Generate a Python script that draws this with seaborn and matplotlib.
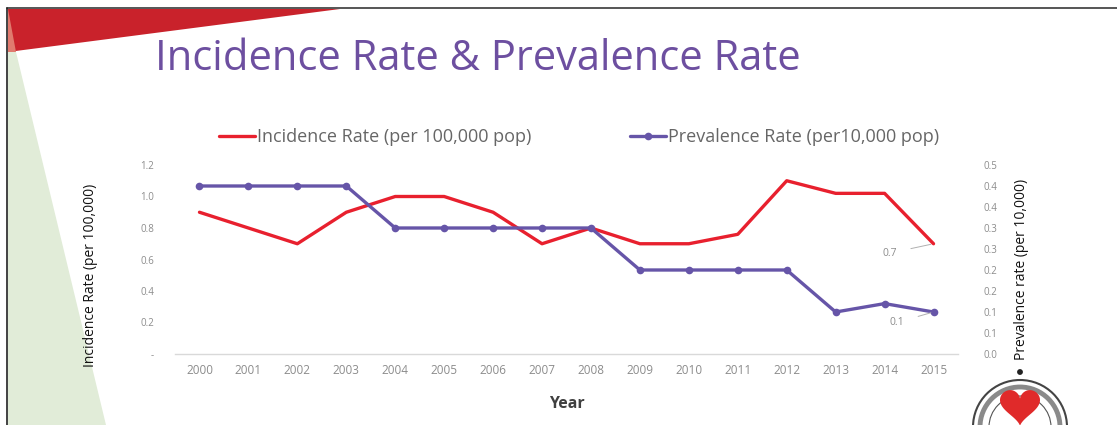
import numpy as np
import pandas as pd
import matplotlib
matplotlib.use("Agg")
import matplotlib.pyplot as plt
from matplotlib.patches import Polygon, Circle
import seaborn as sns

years = ["2000", "2001", "2002", "2003", "2004", "2005", "2006", "2007",
         "2008", "2009", "2010", "2011", "2012", "2013", "2014", "2015"]
incidence = [0.9, 0.8, 0.7, 0.9, 1.0, 1.0, 0.9, 0.7,
             0.8, 0.7, 0.7, 0.76, 1.1, 1.02, 1.02, 0.7]
prevalence = [0.4, 0.4, 0.4, 0.4, 0.3, 0.3, 0.3, 0.3,
              0.3, 0.2, 0.2, 0.2, 0.2, 0.1, 0.12, 0.1]
left_ticks = [0.0, 0.2, 0.4, 0.6, 0.8, 1.0, 1.2]
left_labels = ["-", "0.2", "0.4", "0.6", "0.8", "1.0", "1.2"]
right_ticks = [0.0, 0.05, 0.10, 0.15, 0.20, 0.25, 0.30, 0.35, 0.40, 0.45]
right_labels = ["0.0", "0.1", "0.1", "0.2", "0.2", "0.3", "0.3", "0.4", "0.4", "0.5"]

df = pd.DataFrame({"pos": np.arange(len(years)), "year": years,
                   "incidence": incidence, "prevalence": prevalence})

sns.set_theme(style="white")
plt.rcParams["font.family"] = ["Open Sans", "DejaVu Sans"]

RED = "#e8202e"
PURPLE = "#6655a8"
TICK = "#8c8c8c"
W, H = 1117, 425


def fx(px):
    return px / W


def fy(py):
    return 1 - py / H


fig = plt.figure(figsize=(W / 100, H / 100), dpi=100)
fig.patch.set_facecolor("white")

# slide decoration: red corner, pale green band, frame lines
fig.patches.append(Polygon([(fx(8), fy(52)), (fx(8), fy(9)), (fx(340), fy(9))],
                           closed=True, transform=fig.transFigure,
                           facecolor="#c9222b", edgecolor="none", zorder=-2))
fig.patches.append(Polygon([(fx(8), fy(9)), (fx(16), fy(52)), (fx(8), fy(52))],
                           closed=True, transform=fig.transFigure,
                           facecolor="#e07a6e", edgecolor="none", zorder=-2))
fig.patches.append(Polygon([(fx(8), fy(52)), (fx(16), fy(52)), (fx(106), 0), (fx(8), 0)],
                           closed=True, transform=fig.transFigure,
                           facecolor="#e1ecd8", edgecolor="none", zorder=-2))
fig.add_artist(plt.Line2D([fx(7), 1], [fy(8), fy(8)], transform=fig.transFigure,
                          color="#555555", lw=1.4))
fig.add_artist(plt.Line2D([fx(7), fx(7)], [0, fy(8)], transform=fig.transFigure,
                          color="#222222", lw=1.2))

fig.text(fx(478), fy(59), "Incidence Rate & Prevalence Rate",
         ha="center", va="center", fontsize=30, color="#6d4fa0")

ax = fig.add_axes([fx(175), fy(354), (958 - 175) / W, (354 - 165) / H])
ax2 = ax.twinx()

sns.lineplot(data=df, x="pos", y="incidence", ax=ax, color=RED, lw=2.4,
             label="Incidence Rate (per 100,000 pop)", legend=False)
sns.lineplot(data=df, x="pos", y="prevalence", ax=ax2, color=PURPLE, lw=2.4,
             marker="o", markersize=5.5, markeredgewidth=0,
             label="Prevalence Rate (per10,000 pop)", legend=False)

ax.set_xlim(-0.5, len(years) - 0.5)
ax.set_ylim(0, 1.2)
ax2.set_ylim(0, 0.45)
ax.set_xticks(df["pos"])
ax.set_xticklabels(years)
ax.set_yticks(left_ticks)
ax.set_yticklabels(left_labels)
ax2.set_yticks(right_ticks)
ax2.set_yticklabels(right_labels)

for a in (ax, ax2):
    for s in ("top", "left", "right"):
        a.spines[s].set_visible(False)
    a.spines["bottom"].set_color("#d9d9d9")
    a.spines["bottom"].set_linewidth(1.0)
    a.patch.set_alpha(0)
    a.grid(False)
ax2.spines["bottom"].set_visible(False)

ax.tick_params(axis="x", length=0, pad=7, labelsize=8.5, labelcolor=TICK)
ax.tick_params(axis="y", length=0, pad=15, labelsize=7, labelcolor=TICK)
ax2.tick_params(axis="y", length=0, pad=18, labelsize=7, labelcolor=TICK)

ax.set_xlabel("Year", fontsize=11.5, fontweight="bold", color="#404040", labelpad=14)
ax.set_ylabel("Incidence Rate (per 100,000)", fontsize=10, color="#111111")
ax2.set_ylabel("Prevalence rate (per 10,000)", fontsize=10, color="#111111")
ax.yaxis.set_label_coords((98 - 175) / 783, 1 - (275 - 165) / 189)
ax2.yaxis.set_label_coords((1014 - 175) / 783, 1 - (269 - 165) / 189)

# data labels with leader lines for the final year
last = len(years) - 1
ax.annotate(f"{incidence[-1]:.1f}", xy=(last, incidence[-1]),
            xytext=(last - 0.9, incidence[-1] - 0.06), textcoords="data",
            fontsize=7.5, color=TICK, ha="center", va="center",
            arrowprops=dict(arrowstyle="-", color="#b0b0b0", lw=0.7,
                            shrinkA=8, shrinkB=2))
ax2.annotate(f"{prevalence[-1]:.1f}", xy=(last, prevalence[-1]),
             xytext=(last - 0.75, prevalence[-1] - 0.025), textcoords="data",
             fontsize=7.5, color=TICK, ha="center", va="center",
             arrowprops=dict(arrowstyle="-", color="#b0b0b0", lw=0.7,
                             shrinkA=8, shrinkB=2))

h1, l1 = ax.get_legend_handles_labels()
h2, l2 = ax2.get_legend_handles_labels()
fig.legend(h1 + h2, l1 + l2, loc="center", bbox_to_anchor=(fx(579), fy(137)),
           ncol=2, frameon=False, fontsize=13, labelcolor="#666666",
           handlelength=2.0, handletextpad=0.1, columnspacing=5.5)

# emblem in the lower right corner
cx, cy = 1020, 427
for r, ec, lw in [(47, "#444444", 1.5), (40, "#8a8a8a", 3.5), (31, "#555555", 0.8)]:
    fig.patches.append(Circle((cx, H - cy), r, transform=None, facecolor="white",
                              edgecolor=ec, lw=lw, zorder=5))
t = np.linspace(0, 2 * np.pi, 120)
hx = 16 * np.sin(t) ** 3
hy = 13 * np.cos(t) - 5 * np.cos(2 * t) - 2 * np.cos(3 * t) - np.cos(4 * t)
fig.patches.append(Polygon(np.column_stack([cx + hx * 1.25, H - 405 + hy * 1.25]),
                           closed=True, transform=None, facecolor="#e02a2a",
                           edgecolor="none", zorder=6))
fig.patches.append(Circle((cx, H - 372), 2.2, transform=None, color="#222222", zorder=7))

fig.savefig("out.png", dpi=100)
